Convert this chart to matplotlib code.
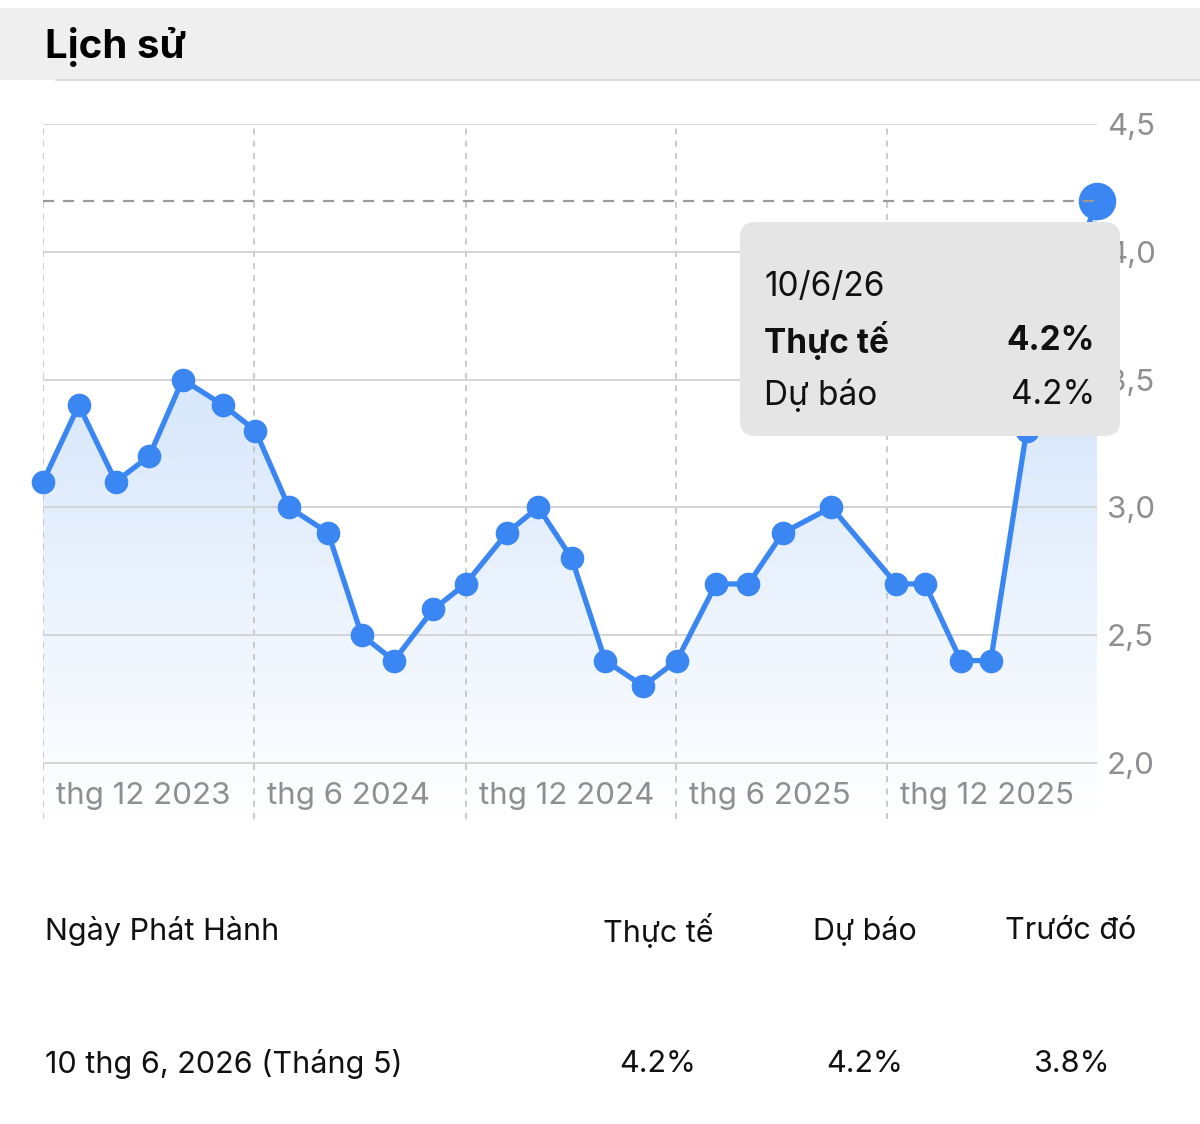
import numpy as np
import pandas as pd
import matplotlib
matplotlib.use("Agg")
import matplotlib.pyplot as plt
import matplotlib.dates as mdates
from matplotlib.patches import FancyBboxPatch, Rectangle, Polygon
from matplotlib.transforms import ScaledTranslation
from matplotlib.lines import Line2D

plt.rcParams['font.family'] = ['Inter', 'DejaVu Sans']

# data
release_dates = ["2023-12-01", "2024-01-01", "2024-02-02", "2024-03-02", "2024-03-31",
                 "2024-05-05", "2024-06-02", "2024-07-01", "2024-08-04", "2024-09-02",
                 "2024-09-30", "2024-11-03", "2024-12-01", "2025-01-06", "2025-02-02",
                 "2025-03-03", "2025-04-01", "2025-05-04", "2025-06-02", "2025-07-06",
                 "2025-08-03", "2025-09-02", "2025-10-14", "2025-12-09", "2026-01-03",
                 "2026-02-03", "2026-03-01", "2026-04-01", "2026-05-01", "2026-06-01"]
actual = [3.1, 3.4, 3.1, 3.2, 3.5, 3.4, 3.3, 3.0, 2.9, 2.5,
          2.4, 2.6, 2.7, 2.9, 3.0, 2.8, 2.4, 2.3, 2.4, 2.7,
          2.7, 2.9, 3.0, 2.7, 2.7, 2.4, 2.4, 3.3, 3.8, 4.2]
tick_dates = ["2023-12-01", "2024-06-01", "2024-12-01", "2025-06-01", "2025-12-01"]
tick_labels = ["thg 12 2023", "thg 6 2024", "thg 12 2024", "thg 6 2025", "thg 12 2025"]
y_ticks = [2.0, 2.5, 3.0, 3.5, 4.0, 4.5]

tooltip_date = "10/6/26"
tooltip_actual = "4.2%"
tooltip_forecast = "4.2%"

table_header = ["Ngày Phát Hành", "Thực tế", "Dự báo", "Trước đó"]
table_row = ["10 thg 6, 2026 (Tháng 5)", "4.2%", "4.2%", "3.8%"]

dates = pd.to_datetime(release_dates)
xnum = mdates.date2num(dates)
W, H = 1200, 1124
BLUE = "#3a86f2"
GREY_TXT = "#8e8e93"


def fx(x):
    return x / W


def fy(y):
    return 1 - y / H


fig = plt.figure(figsize=(W / 100, H / 100), dpi=100)
fig.patch.set_facecolor("white")

# header band
fig.patches.append(Rectangle((0, fy(80)), 1, fy(8) - fy(80), transform=fig.transFigure,
                             facecolor="#efefef", edgecolor="none", zorder=0))
fig.lines.append(Line2D([fx(56), 1], [fy(80), fy(80)], transform=fig.transFigure,
                        color="#d4d4d4", lw=1.2))
fig.text(fx(45), fy(47), "Lịch sử", fontsize=29, fontweight="bold", color="black",
         va="center", ha="left")

# chart area
ymin, ymax = 1.78, 4.5
ax = fig.add_axes([fx(43), fy(819), fx(1097) - fx(43), fy(124) - fy(819)])
ax.set_facecolor("none")
ax.set_xlim(xnum[0], xnum[-1])
ax.set_ylim(ymin, ymax)
for s in ax.spines.values():
    s.set_visible(False)

# gradient fill under the line
verts = [(xnum[0], ymin)] + list(zip(xnum, actual)) + [(xnum[-1], ymin)]
poly = Polygon(verts, closed=True, facecolor="none", edgecolor="none")
ax.add_patch(poly)
top_c = np.array([0.77, 0.86, 0.98])
bot_c = np.array([1.0, 1.0, 1.0])
t = np.linspace(0, 1, 256)[:, None]
grad = top_c * (1 - t) + bot_c * t
grad = np.repeat(grad[:, None, :], 2, axis=1)
im = ax.imshow(grad, extent=[xnum[0], xnum[-1], ymin, 4.3], origin="upper",
               aspect="auto", zorder=0.5, interpolation="bilinear")
im.set_clip_path(poly)

# grid
ax.set_yticks(y_ticks)
ax.yaxis.tick_right()
ax.yaxis.set_major_formatter(plt.FuncFormatter(lambda v, p: f"{v:.1f}".replace(".", ",")))
ax.tick_params(axis="y", length=0, pad=7, labelsize=22.5, labelcolor=GREY_TXT)
ax.grid(axis="y", color="#d2d2d2", lw=1.3, zorder=1)

ax.set_xticks(mdates.date2num(pd.to_datetime(tick_dates)))
ax.set_xticklabels(tick_labels, ha="left")
ax.tick_params(axis="x", length=0, pad=-27, labelsize=22.5, labelcolor=GREY_TXT)
offset = ScaledTranslation(13 / 100, 0, fig.dpi_scale_trans)
for lab in ax.get_xticklabels():
    lab.set_transform(lab.get_transform() + offset)
ax.grid(axis="x", color="#bdbdbd", lw=1.1, linestyle=(0, (4, 4)), zorder=1)
ax.set_axisbelow(True)

# line and markers
ax.plot(xnum, actual, color=BLUE, lw=3.8, zorder=3, clip_on=False,
        marker="o", markersize=16, markerfacecolor=BLUE, markeredgecolor=BLUE)
ax.plot(xnum[-1], actual[-1], "o", color=BLUE, markersize=26, zorder=4, clip_on=False)

# crosshair at the selected value
ax.axhline(actual[-1], color="#9a9a9a", lw=1.6, linestyle=(0, (5, 4)), zorder=5)

# tooltip
fig.patches.append(FancyBboxPatch((fx(740), fy(436)), fx(1120) - fx(740), fy(222) - fy(436),
                                  boxstyle="round,pad=0,rounding_size=0.013",
                                  transform=fig.transFigure, facecolor="#e5e5e5",
                                  edgecolor="none", zorder=5))
fig.text(fx(764), fy(287), tooltip_date, fontsize=24, color="#111111", va="center",
         ha="left", zorder=6)
fig.text(fx(764), fy(341), "Thực tế", fontsize=24, fontweight="bold", color="#111111",
         va="center", ha="left", zorder=6)
fig.text(fx(1095), fy(341), tooltip_actual, fontsize=24, fontweight="bold", color="#111111",
         va="center", ha="right", zorder=6)
fig.text(fx(764), fy(395), "Dự báo", fontsize=24, color="#111111", va="center",
         ha="left", zorder=6)
fig.text(fx(1095), fy(395), tooltip_forecast, fontsize=24, color="#111111", va="center",
         ha="right", zorder=6)

# table below the chart
fig.text(fx(45), fy(931), table_header[0], fontsize=22, color="#111111", va="center", ha="left")
fig.text(fx(45), fy(1064), table_row[0], fontsize=22, color="#111111", va="center", ha="left")
col_x = [658, 865, 1071]
for cx, h, v in zip(col_x, table_header[1:], table_row[1:]):
    fig.text(fx(cx), fy(931), h, fontsize=22, color="#111111", va="center", ha="center")
    fig.text(fx(cx), fy(1064), v, fontsize=22, color="#111111", va="center", ha="center")

plt.savefig("out.png", dpi=100)
